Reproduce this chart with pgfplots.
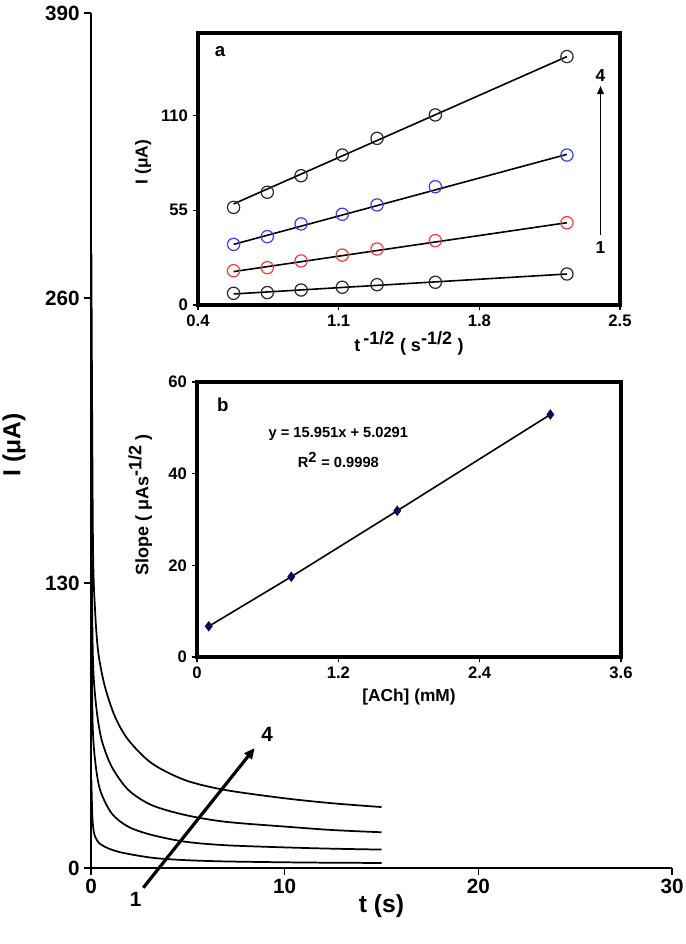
\documentclass[border=0pt]{standalone}
\usepackage{fontspec}
\setmainfont{Liberation Sans}
\usepackage{pgfplots}
\pgfplotsset{compat=1.18}
\usetikzlibrary{arrows.meta}
\definecolor{cblue}{RGB}{60,60,245}
\definecolor{cred}{RGB}{240,60,60}
\definecolor{cgray}{RGB}{40,40,40}
\definecolor{navy}{RGB}{10,10,90}
\begin{document}
\begin{tikzpicture}
\path[use as bounding box] (-68.25pt,-57pt) rectangle (445.5pt,651pt);
% ---------------- main axis ----------------
\begin{axis}[
  at={(0pt,0pt)}, anchor=south west,
  width=435.75pt, height=641.25pt, scale only axis,
  xmin=0, xmax=30, ymin=0, ymax=390,
  axis lines*=left,
  axis line style={line width=1.4pt},
  xtick={0,10,20,30}, ytick={0,130,260,390},
  tick align=outside, major tick length=5pt,
  tick style={line width=1.2pt, black},
  tick label style={font=\bfseries\fontsize{15.5}{15.5}\selectfont},
  /pgf/number format/assume math mode=true,
  clip=false,
]
\addplot[black, line width=1.3pt, smooth, tension=0.5] coordinates {
 (0.02,280) (0.1,150) (0.21,117.7) (0.38,98) (0.72,82.7) (1.24,69) (1.93,58.4)
 (3.13,47.8) (4.85,40.1) (6.92,35.6) (10,31.8) (12.5,29.5) (15,27.8)};
\addplot[black, line width=1.3pt, smooth, tension=0.5] coordinates {
 (0.02,190) (0.06,120) (0.12,90.3) (0.29,72.1) (0.55,58.4) (1.07,46.2) (1.93,35.6)
 (3.13,28.7) (4.85,24.2) (6.92,21.1) (10,18.9) (12.5,17.3) (15,16.3)};
\addplot[black, line width=1.3pt, smooth, tension=0.5] coordinates {
 (0.02,120) (0.08,67.5) (0.21,49.3) (0.47,35.6) (1.07,24.9) (1.93,18.8)
 (3.13,15.1) (4.85,12.0) (6.92,10.4) (10,9.4) (12.5,8.8) (15,8.4)};
\addplot[black, line width=1.3pt, smooth, tension=0.5] coordinates {
 (0.02,40) (0.08,21.9) (0.21,14.3) (0.55,10.5) (1.41,7.4) (3.13,4.7)
 (4.85,3.6) (6.92,3.0) (10,2.6) (12.5,2.4) (15,2.3)};
\addplot[black, line width=2.4pt, -{Triangle[length=8pt,width=7pt]}] coordinates {(2.7,-9) (8.45,54.7)};
\node[font=\bfseries\fontsize{15.5}{15.5}\selectfont] at (axis cs:9.1,60.8) {4};
\node[font=\bfseries\fontsize{15.5}{15.5}\selectfont] at (axis cs:2.3,-14.4) {1};
\node[font=\bfseries\fontsize{18.5}{18.5}\selectfont] at (rel axis cs:0.5,-0.045) {t (s)};
\node[font=\bfseries\fontsize{18.5}{18.5}\selectfont, rotate=90] at (rel axis cs:-0.1325,0.495) {I (μA)};
\end{axis}
% ---------------- inset a ----------------
\begin{axis}[
  at={(80.25pt,422.25pt)}, anchor=south west,
  width=316.5pt, height=204pt, scale only axis,
  xmin=0.4, xmax=2.5, ymin=0, ymax=158,
  axis line style={line width=2.5pt},
  xtick={0.4,1.1,1.8,2.5}, ytick={0,55,110},
  xtick pos=bottom, ytick pos=left,
  tick align=outside, major tick length=4pt,
  tick style={line width=1pt, black},
  xticklabel style={/pgf/number format/.cd, fixed, fixed zerofill, precision=1},
  tick label style={font=\bfseries\fontsize{12.5}{12.5}\selectfont},
  /pgf/number format/assume math mode=true,
  axis background/.style={fill=white},
  clip=false,
]
\addplot[black, line width=1.2pt] coordinates {(0.577,58.7) (2.236,144.3)};
\addplot[black, line width=1.2pt] coordinates {(0.577,35.2) (2.236,87.5)};
\addplot[black, line width=1.2pt] coordinates {(0.577,19.4) (2.236,47.8)};
\addplot[black, line width=1.2pt] coordinates {(0.577,6.4) (2.236,18.0)};
\addplot[only marks, mark=o, mark size=4.6pt, mark options={cgray, line width=0.9pt}] coordinates {
 (0.577,56.7) (0.745,65.5) (0.913,75.1) (1.118,87.1) (1.291,96.8) (1.581,110.4) (2.236,144.3)};
\addplot[only marks, mark=o, mark size=4.6pt, mark options={cblue, line width=0.9pt}] coordinates {
 (0.577,35.2) (0.745,39.7) (0.913,47.1) (1.118,52.7) (1.291,58.1) (1.581,68.7) (2.236,87.1)};
\addplot[only marks, mark=o, mark size=4.6pt, mark options={cred, line width=0.9pt}] coordinates {
 (0.577,19.9) (0.745,21.7) (0.913,25.6) (1.118,29.0) (1.291,32.5) (1.581,37.4) (2.236,47.8)};
\addplot[only marks, mark=o, mark size=4.6pt, mark options={cgray, line width=0.9pt}] coordinates {
 (0.577,6.8) (0.745,7.2) (0.913,8.7) (1.118,10.3) (1.291,11.8) (1.581,13.2) (2.236,18.0)};
\addplot[black, line width=1.2pt, -{Triangle[length=6pt,width=5pt]}] coordinates {(2.403,40.6) (2.403,127.2)};
\node[font=\bfseries\fontsize{13}{13}\selectfont] at (axis cs:2.403,133) {4};
\node[font=\bfseries\fontsize{13}{13}\selectfont] at (axis cs:2.403,33.5) {1};
\node[font=\bfseries\fontsize{14}{14}\selectfont] at (axis cs:0.51,147) {a};
\node[font=\bfseries\fontsize{13.5}{13.5}\selectfont] at (rel axis cs:0.5,-0.14) {t\,$^{\textbf{-1/2}}$ ( s$^{\textbf{-1/2}}$ )};
\node[font=\bfseries\fontsize{13}{13}\selectfont, rotate=90] at (rel axis cs:-0.13,0.526) {I (μA)};
\end{axis}
% ---------------- inset b ----------------
\begin{axis}[
  at={(79.5pt,158.25pt)}, anchor=south west,
  width=318pt, height=206.25pt, scale only axis,
  xmin=0, xmax=3.6, ymin=0, ymax=60,
  axis line style={line width=2.5pt},
  xtick={0,1.2,2.4,3.6}, ytick={0,20,40,60},
  xtick pos=bottom, ytick pos=left,
  tick align=outside, major tick length=4pt,
  tick style={line width=1pt, black},
  tick label style={font=\bfseries\fontsize{12.5}{12.5}\selectfont},
  /pgf/number format/assume math mode=true,
  axis background/.style={fill=white},
  clip=false,
]
\addplot[black, line width=1.2pt, mark=diamond*, mark size=3pt, mark options={navy, fill=navy}] coordinates {
 (0.1,6.7) (0.8,17.5) (1.7,31.9) (3.0,52.9)};
\node[font=\bfseries\fontsize{14}{14}\selectfont] at (axis cs:0.22,55) {b};
\node[font=\bfseries\fontsize{11}{11}\selectfont] at (axis cs:1.2,48.6) {y = 15.951x + 5.0291};
\node[font=\bfseries\fontsize{11}{11}\selectfont] at (axis cs:1.2,43) {R$^{\textbf{2}}$ = 0.9998};
\node[font=\bfseries\fontsize{13}{13}\selectfont] at (rel axis cs:0.5,-0.145) {[ACh] (mM)};
\node[font=\bfseries\fontsize{13.5}{13.5}\selectfont, rotate=90] at (rel axis cs:-0.134,0.553) {Slope ( μAs$^{\textbf{-1/2}}$ )};
\end{axis}
\end{tikzpicture}
\end{document}
